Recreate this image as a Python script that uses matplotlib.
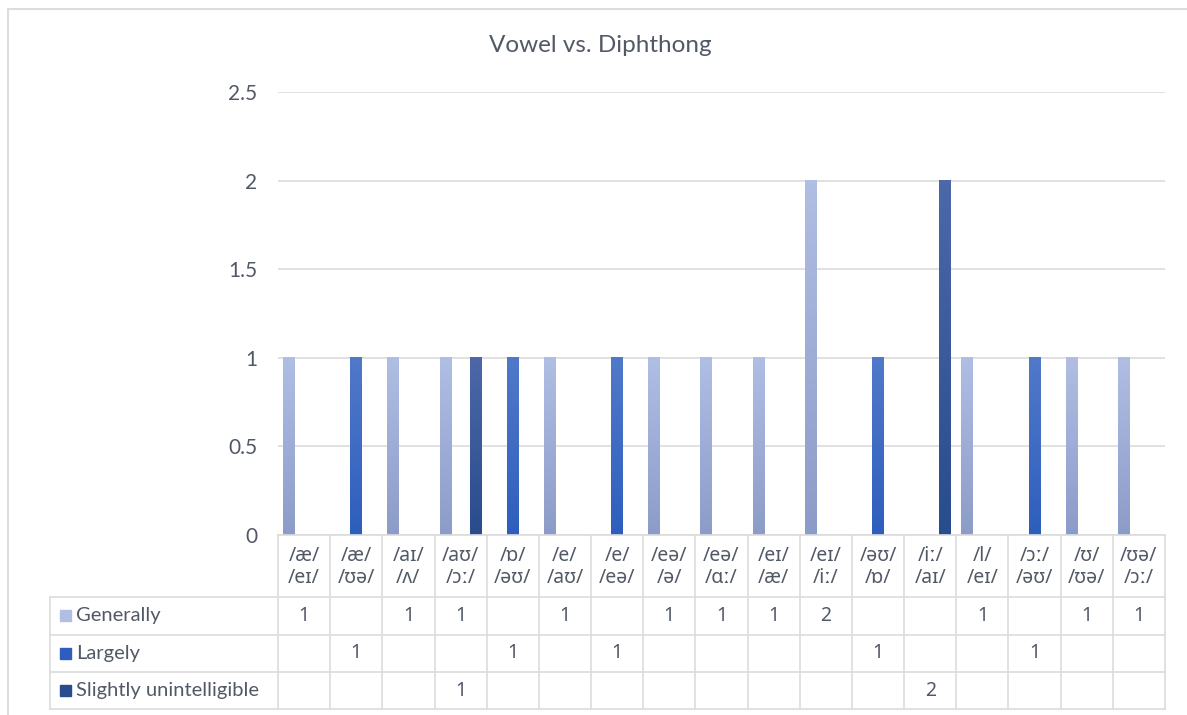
import matplotlib
matplotlib.use("Agg")
import matplotlib.pyplot as plt
import numpy as np
from matplotlib.patches import Rectangle
from matplotlib.colors import LinearSegmentedColormap

# pares de sonidos (vocal / diptongo)
pares = ["/æ/\n/eɪ/", "/æ/\n/ʊə/", "/aɪ/\n/ʌ/", "/aʊ/\n/ɔː/", "/ɒ/\n/əʊ/",
         "/e/\n/aʊ/", "/e/\n/eə/", "/eə/\n/ə/", "/eə/\n/ɑː/", "/eɪ/\n/æ/",
         "/eɪ/\n/iː/", "/əʊ/\n/ɒ/", "/iː/\n/aɪ/", "/l/\n/eɪ/", "/ɔː/\n/əʊ/",
         "/ʊ/\n/ʊə/", "/ʊə/\n/ɔː/"]

series = ["Generally", "Largely", "Slightly unintelligible"]
generally = [1, None, 1, 1, None, 1, None, 1, 1, 1, 2, None, None, 1, None, 1, 1]
largely = [None, 1, None, None, 1, None, 1, None, None, None, None, 1, None, None, 1, None, None]
slightly = [None, None, None, 1, None, None, None, None, None, None, None, None, 2, None, None, None, None]

colores = [("#b0bee4", "#8c9cc8"), ("#5179c9", "#2e5ebd"), ("#4c68a8", "#284c8c")]
gris = "#525966"
linea = "#dcdcdc"

W, H = 1187, 715
fig = plt.figure(figsize=(W / 100, H / 100), dpi=100)
fig.patch.set_facecolor("white")

# marco exterior del grafico
fig.patches.append(Rectangle((8 / W, -0.05), 1.1, 1 - 9 / H + 0.05, transform=fig.transFigure,
                             fill=False, edgecolor="#dddddd", lw=1.5))

x0, x1 = 278, 1165
y_base, y_top = 535, 92
ax = fig.add_axes([x0 / W, 1 - y_base / H, (x1 - x0) / W, (y_base - y_top) / H])

n = len(pares)
x = np.arange(n)
datos = [generally, largely, slightly]
offs = [-0.29, 0.0, 0.29]
ancho = 0.225

ax.set_xlim(-0.5, n - 0.5)
ax.set_ylim(0, 2.5)
ax.set_yticks(np.arange(0, 2.51, 0.5))
ax.set_yticklabels(["0", "0.5", "1", "1.5", "2", "2.5"])
ax.yaxis.grid(True, color=linea, lw=1.2)
ax.set_axisbelow(True)
for s in ax.spines.values():
    s.set_visible(False)
ax.tick_params(axis="y", length=0, pad=15, labelsize=15, labelcolor=gris)
ax.tick_params(axis="x", length=0, labelbottom=False)
for t in ax.get_yticklabels():
    t.set_family(["Lato", "DejaVu Sans"])

# barras con degradado vertical
for vals, off, (c_top, c_bot) in zip(datos, offs, colores):
    v = np.array([np.nan if d is None else d for d in vals], dtype=float)
    barras = ax.bar(x + off, np.nan_to_num(v), width=ancho, color="none", edgecolor="none")
    cmap = LinearSegmentedColormap.from_list("g", [c_bot, c_top])
    grad = np.linspace(0, 1, 100).reshape(-1, 1)
    for b in barras:
        h = b.get_height()
        if h <= 0:
            continue
        ax.imshow(grad, cmap=cmap, origin="lower", aspect="auto", zorder=2,
                  extent=(b.get_x(), b.get_x() + b.get_width(), 0, h))
ax.set_xlim(-0.5, n - 0.5)
ax.set_ylim(0, 2.5)

fig.text(600 / W, 1 - 46 / H, "Vowel vs. Diphthong", ha="center", va="center",
         fontsize=17.5, color=gris, family=["Lato", "DejaVu Sans"])

# tabla de datos bajo el grafico
filas = [0, 62, 99.5, 137, 174]
tab = fig.add_axes([x0 / W, 1 - (y_base + filas[-1]) / H, (x1 - x0) / W, filas[-1] / H])
tab.set_xlim(-0.5, n - 0.5)
tab.set_ylim(filas[-1], 0)
tab.axis("off")
col_w = (x1 - x0) / n
izq = -0.5 - (x0 - 50) / col_w

for i in range(n + 1):
    tab.plot([i - 0.5, i - 0.5], [0, filas[-1]], color=linea, lw=1.2, clip_on=False)
tab.plot([-0.5, n - 0.5], [0, 0], color=linea, lw=1.2, clip_on=False)
for yy in filas[1:]:
    tab.plot([izq, n - 0.5], [yy, yy], color=linea, lw=1.2, clip_on=False)
tab.plot([izq, izq], [filas[1], filas[-1]], color=linea, lw=1.2, clip_on=False)

for i, p in enumerate(pares):
    tab.text(i, filas[1] / 2 + 1, p, ha="center", va="center", fontsize=14,
             color=gris, linespacing=1.15, family=["Noto Sans", "DejaVu Sans"])

for r, (nombre, vals, (c_top, c_bot)) in enumerate(zip(series, datos, colores)):
    yc = (filas[r + 1] + filas[r + 2]) / 2
    tab.add_patch(Rectangle((izq + 0.2, yc - 5.5), 10.5 / col_w, 11, color=c_top if r == 0 else c_bot,
                            clip_on=False))
    tab.text(izq + 0.2 + 16 / col_w, yc, nombre, ha="left", va="center", fontsize=14.5,
             color=gris, family=["Lato", "DejaVu Sans"], clip_on=False)
    for i, d in enumerate(vals):
        if d is not None:
            tab.text(i, yc, str(d), ha="center", va="center", fontsize=14,
                     color=gris, family=["Noto Sans", "DejaVu Sans"])

fig.savefig("out.png", dpi=100)
